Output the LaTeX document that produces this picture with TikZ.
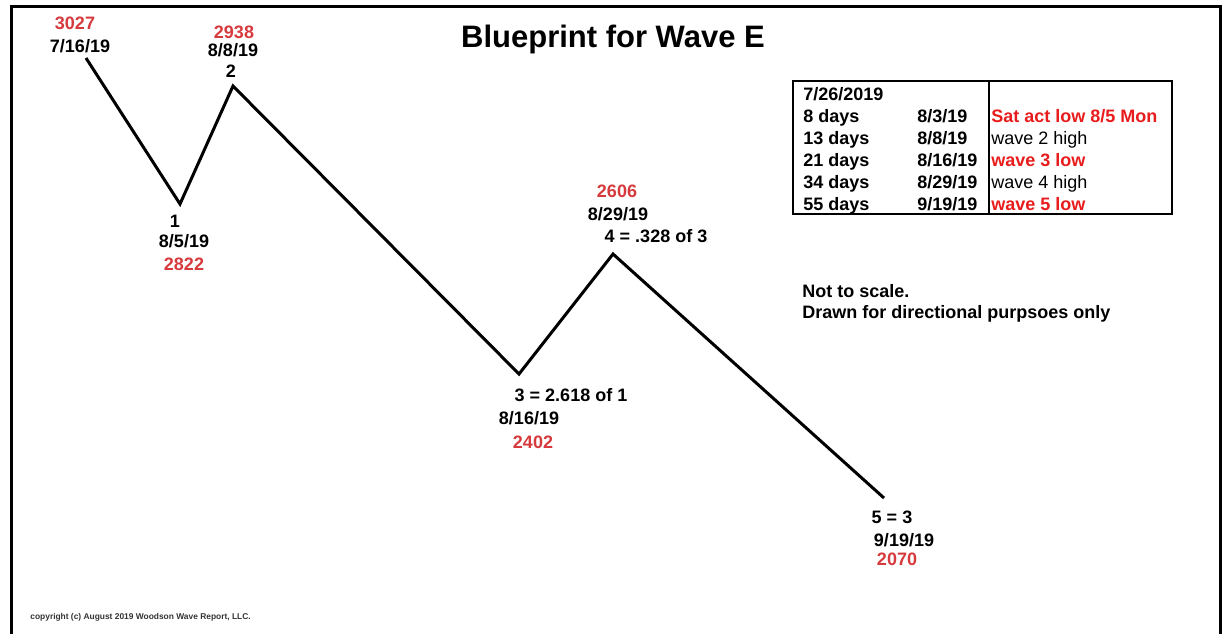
\documentclass[tikz,border=0pt]{standalone}
\usepackage{fontspec}
\setmainfont{Liberation Sans}
\definecolor{pricered}{HTML}{D63A3D}
\definecolor{tablered}{HTML}{E81C1C}
\definecolor{copygray}{HTML}{333333}

\begin{document}
\begin{tikzpicture}[x=0.5pt, y=-0.5pt,
    lbl/.style={inner sep=0pt, anchor=base, font=\bfseries\fontsize{9}{11}\selectfont},
    price/.style={lbl, text=pricered},
    cell/.style={lbl, anchor=base west},
    plaincell/.style={cell, font=\fontsize{9}{11}\selectfont},
    redcell/.style={cell, text=tablered},
    wave/.style={line width=1.5pt, line join=miter}
  ]
  \useasboundingbox (0,0) rectangle (1229,634);
  % frame, open at the bottom
  \draw[line width=1.5pt] (11,634) -- (11,6) -- (1220,6) -- (1220,634);

  \node[lbl, font=\bfseries\fontsize{15.5}{18}\selectfont] (title) at (613,47) {Blueprint for Wave E};

  % wave turning points
  \coordinate (w0) at (86,58);
  \coordinate (w1) at (180,204);
  \coordinate (w2) at (233,86);
  \coordinate (w3) at (519,374);
  \coordinate (w4) at (613,254);
  \coordinate (w5) at (884,498);
  \draw[wave] (w0) -- (w1) -- (w2) -- (w3) -- (w4) -- (w5);

  % start
  \node[price] (p0) at (75,29) {3027};
  \node[lbl] (d0) at (80,52) {7/16/19};
  % wave 1
  \node[lbl] (n1) at (175,227) {1};
  \node[lbl] (d1) at (184,247) {8/5/19};
  \node[price] (p1) at (184,270) {2822};
  % wave 2
  \node[price] (p2) at (234,38) {2938};
  \node[lbl] (d2) at (233,56) {8/8/19};
  \node[lbl] (n2) at (231,77) {2};
  % wave 3
  \node[lbl] (n3) at (571,401) {3 = 2.618 of 1};
  \node[lbl] (d3) at (529,424) {8/16/19};
  \node[price] (p3) at (533,448) {2402};
  % wave 4
  \node[price] (p4) at (617,197) {2606};
  \node[lbl] (d4) at (618,220) {8/29/19};
  \node[lbl] (n4) at (656,242) {4 = .328 of 3};
  % wave 5
  \node[lbl] (n5) at (892,523) {5 = 3};
  \node[lbl] (d5) at (904,546) {9/19/19};
  \node[price] (p5) at (897,565) {2070};

  % time table
  \draw[line width=1pt] (793,81) rectangle (1172,214);
  \draw[line width=1pt] (989,81) -- (989,214);
  \node[cell] (t0) at (803,100) {7/26/2019};
  \node[cell] (t1a) at (803,122) {8 days};
  \node[cell] (t1b) at (917,122) {8/3/19};
  \node[redcell] (t1c) at (991,122) {Sat act low 8/5 Mon};
  \node[cell] (t2a) at (803,144) {13 days};
  \node[cell] (t2b) at (917,144) {8/8/19};
  \node[plaincell] (t2c) at (991,144) {wave 2 high};
  \node[cell] (t3a) at (803,166) {21 days};
  \node[cell] (t3b) at (917,166) {8/16/19};
  \node[redcell] (t3c) at (991,166) {wave 3 low};
  \node[cell] (t4a) at (803,188) {34 days};
  \node[cell] (t4b) at (917,188) {8/29/19};
  \node[plaincell] (t4c) at (991,188) {wave 4 high};
  \node[cell] (t5a) at (803,210) {55 days};
  \node[cell] (t5b) at (917,210) {9/19/19};
  \node[redcell] (t5c) at (991,210) {wave 5 low};

  \node[cell] (scale) at (802,297) {Not to scale.};
  \node[cell] (purpose) at (802,318) {Drawn for directional purpsoes only};

  \node[cell, text=copygray, font=\bfseries\fontsize{4.2}{5}\selectfont] (copy) at (30,619) {copyright (c) August 2019 Woodson Wave Report, LLC.};
\end{tikzpicture}
\end{document}
